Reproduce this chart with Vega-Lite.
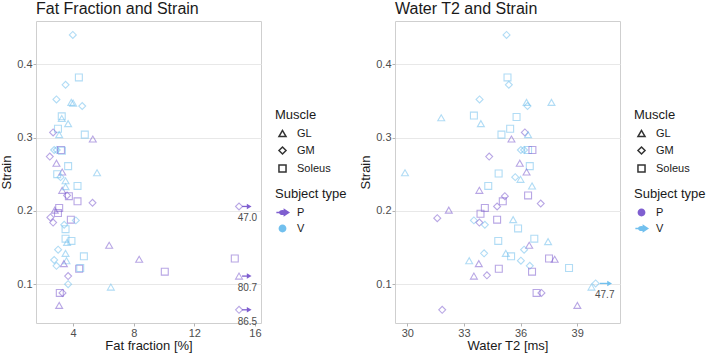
{
  "$schema": "https://vega.github.io/schema/vega-lite/v6.json",
  "padding": {"left": 0, "top": 0, "right": 0, "bottom": 0},
  "datasets": {
    "fat": [
      {"m":"GM","s":"V","ff":3.98,"strain":0.44},
      {"m":"Soleus","s":"V","ff":4.38,"strain":0.382},
      {"m":"GM","s":"V","ff":3.5,"strain":0.372},
      {"m":"GM","s":"V","ff":2.9,"strain":0.352},
      {"m":"GL","s":"V","ff":3.88,"strain":0.348},
      {"m":"GL","s":"V","ff":4.0,"strain":0.347},
      {"m":"GM","s":"V","ff":4.6,"strain":0.343},
      {"m":"Soleus","s":"V","ff":3.25,"strain":0.329},
      {"m":"GL","s":"V","ff":3.25,"strain":0.326},
      {"m":"Soleus","s":"V","ff":3.0,"strain":0.312},
      {"m":"GL","s":"V","ff":3.67,"strain":0.319},
      {"m":"GM","s":"P","ff":2.68,"strain":0.307},
      {"m":"GL","s":"V","ff":3.08,"strain":0.304},
      {"m":"Soleus","s":"V","ff":4.77,"strain":0.304},
      {"m":"GL","s":"P","ff":5.3,"strain":0.298},
      {"m":"GM","s":"V","ff":2.75,"strain":0.283},
      {"m":"GM","s":"V","ff":2.92,"strain":0.283},
      {"m":"Soleus","s":"P","ff":3.2,"strain":0.283},
      {"m":"Soleus","s":"V","ff":3.26,"strain":0.282},
      {"m":"GM","s":"P","ff":2.46,"strain":0.274},
      {"m":"Soleus","s":"V","ff":3.67,"strain":0.261},
      {"m":"GL","s":"P","ff":2.9,"strain":0.265},
      {"m":"GL","s":"V","ff":5.58,"strain":0.252},
      {"m":"GL","s":"P","ff":3.28,"strain":0.253},
      {"m":"Soleus","s":"V","ff":2.95,"strain":0.25},
      {"m":"GM","s":"V","ff":3.17,"strain":0.246},
      {"m":"GL","s":"V","ff":3.5,"strain":0.241},
      {"m":"GL","s":"P","ff":3.28,"strain":0.228},
      {"m":"Soleus","s":"V","ff":4.29,"strain":0.234},
      {"m":"GL","s":"V","ff":3.5,"strain":0.233},
      {"m":"GM","s":"P","ff":3.6,"strain":0.221},
      {"m":"Soleus","s":"P","ff":3.72,"strain":0.22},
      {"m":"Soleus","s":"P","ff":4.29,"strain":0.213},
      {"m":"GM","s":"P","ff":5.28,"strain":0.211},
      {"m":"Soleus","s":"P","ff":3.08,"strain":0.204},
      {"m":"GL","s":"P","ff":2.79,"strain":0.201},
      {"m":"Soleus","s":"P","ff":3.0,"strain":0.197},
      {"m":"GM","s":"P","ff":2.5,"strain":0.191},
      {"m":"GM","s":"P","ff":2.68,"strain":0.184},
      {"m":"Soleus","s":"P","ff":3.85,"strain":0.188},
      {"m":"GM","s":"V","ff":4.18,"strain":0.187},
      {"m":"GM","s":"V","ff":3.41,"strain":0.181},
      {"m":"Soleus","s":"V","ff":3.5,"strain":0.175},
      {"m":"Soleus","s":"V","ff":3.5,"strain":0.162},
      {"m":"Soleus","s":"V","ff":3.89,"strain":0.159},
      {"m":"GL","s":"V","ff":3.6,"strain":0.157},
      {"m":"GM","s":"V","ff":3.01,"strain":0.147},
      {"m":"GL","s":"V","ff":3.5,"strain":0.142},
      {"m":"Soleus","s":"V","ff":4.71,"strain":0.138},
      {"m":"GM","s":"V","ff":2.75,"strain":0.133},
      {"m":"GL","s":"V","ff":3.56,"strain":0.132},
      {"m":"GM","s":"V","ff":2.9,"strain":0.125},
      {"m":"GL","s":"P","ff":3.39,"strain":0.128},
      {"m":"Soleus","s":"P","ff":4.4,"strain":0.121},
      {"m":"Soleus","s":"V","ff":4.47,"strain":0.122},
      {"m":"GM","s":"P","ff":3.67,"strain":0.111},
      {"m":"GM","s":"V","ff":3.67,"strain":0.1},
      {"m":"Soleus","s":"P","ff":3.12,"strain":0.088},
      {"m":"GM","s":"P","ff":3.3,"strain":0.088},
      {"m":"GL","s":"P","ff":3.08,"strain":0.071},
      {"m":"GL","s":"P","ff":6.38,"strain":0.153},
      {"m":"GL","s":"P","ff":8.36,"strain":0.134},
      {"m":"GL","s":"V","ff":6.49,"strain":0.096},
      {"m":"Soleus","s":"P","ff":10.05,"strain":0.117},
      {"m":"Soleus","s":"P","ff":14.67,"strain":0.135},
      {"m":"GM","s":"P","ff":47.0,"strain":0.206},
      {"m":"GL","s":"P","ff":80.7,"strain":0.111},
      {"m":"GM","s":"P","ff":86.5,"strain":0.065}
    ],
    "water": [
      {"m":"GM","s":"V","t2":35.26,"strain":0.44},
      {"m":"Soleus","s":"V","t2":35.31,"strain":0.382},
      {"m":"GM","s":"V","t2":35.38,"strain":0.372},
      {"m":"GM","s":"V","t2":33.83,"strain":0.352},
      {"m":"GL","s":"V","t2":36.32,"strain":0.348},
      {"m":"GL","s":"V","t2":37.64,"strain":0.348},
      {"m":"GM","s":"V","t2":36.37,"strain":0.343},
      {"m":"Soleus","s":"V","t2":35.79,"strain":0.328},
      {"m":"GL","s":"V","t2":31.8,"strain":0.327},
      {"m":"Soleus","s":"V","t2":33.53,"strain":0.33},
      {"m":"GL","s":"V","t2":33.9,"strain":0.319},
      {"m":"Soleus","s":"V","t2":35.45,"strain":0.312},
      {"m":"Soleus","s":"V","t2":34.99,"strain":0.304},
      {"m":"GL","s":"P","t2":35.52,"strain":0.298},
      {"m":"GM","s":"P","t2":36.23,"strain":0.307},
      {"m":"GL","s":"V","t2":36.4,"strain":0.304},
      {"m":"GM","s":"V","t2":36.02,"strain":0.283},
      {"m":"GM","s":"V","t2":36.19,"strain":0.283},
      {"m":"Soleus","s":"V","t2":36.4,"strain":0.283},
      {"m":"Soleus","s":"P","t2":36.63,"strain":0.283},
      {"m":"GM","s":"P","t2":34.34,"strain":0.274},
      {"m":"GL","s":"P","t2":35.96,"strain":0.265},
      {"m":"Soleus","s":"V","t2":36.49,"strain":0.261},
      {"m":"GL","s":"P","t2":36.32,"strain":0.253},
      {"m":"GL","s":"V","t2":29.88,"strain":0.252},
      {"m":"Soleus","s":"V","t2":34.84,"strain":0.251},
      {"m":"GM","s":"V","t2":35.72,"strain":0.246},
      {"m":"GL","s":"V","t2":36.0,"strain":0.243},
      {"m":"GL","s":"P","t2":33.82,"strain":0.228},
      {"m":"Soleus","s":"V","t2":34.29,"strain":0.234},
      {"m":"GL","s":"V","t2":36.61,"strain":0.234},
      {"m":"Soleus","s":"P","t2":36.4,"strain":0.221},
      {"m":"GM","s":"P","t2":35.17,"strain":0.22},
      {"m":"Soleus","s":"P","t2":35.06,"strain":0.213},
      {"m":"GM","s":"P","t2":37.07,"strain":0.21},
      {"m":"GM","s":"P","t2":34.76,"strain":0.206},
      {"m":"Soleus","s":"P","t2":34.11,"strain":0.204},
      {"m":"GL","s":"P","t2":32.2,"strain":0.201},
      {"m":"Soleus","s":"P","t2":33.88,"strain":0.196},
      {"m":"GM","s":"P","t2":31.59,"strain":0.19},
      {"m":"GM","s":"V","t2":33.53,"strain":0.187},
      {"m":"GM","s":"P","t2":33.82,"strain":0.184},
      {"m":"GM","s":"V","t2":34.11,"strain":0.181},
      {"m":"Soleus","s":"P","t2":34.76,"strain":0.188},
      {"m":"GL","s":"V","t2":35.61,"strain":0.188},
      {"m":"Soleus","s":"V","t2":35.87,"strain":0.176},
      {"m":"Soleus","s":"V","t2":34.82,"strain":0.159},
      {"m":"GL","s":"P","t2":36.46,"strain":0.153},
      {"m":"Soleus","s":"V","t2":36.73,"strain":0.162},
      {"m":"GL","s":"V","t2":37.46,"strain":0.158},
      {"m":"GM","s":"V","t2":36.19,"strain":0.147},
      {"m":"GM","s":"V","t2":34.07,"strain":0.142},
      {"m":"GL","s":"V","t2":35.22,"strain":0.142},
      {"m":"Soleus","s":"V","t2":35.5,"strain":0.138},
      {"m":"GL","s":"V","t2":33.28,"strain":0.132},
      {"m":"GM","s":"V","t2":36.02,"strain":0.132},
      {"m":"GL","s":"P","t2":33.79,"strain":0.128},
      {"m":"GM","s":"V","t2":36.49,"strain":0.125},
      {"m":"Soleus","s":"P","t2":34.85,"strain":0.121},
      {"m":"Soleus","s":"P","t2":36.61,"strain":0.117},
      {"m":"Soleus","s":"V","t2":38.57,"strain":0.122},
      {"m":"Soleus","s":"P","t2":37.51,"strain":0.135},
      {"m":"GL","s":"P","t2":37.81,"strain":0.134},
      {"m":"GL","s":"P","t2":33.53,"strain":0.111},
      {"m":"GM","s":"P","t2":34.22,"strain":0.112},
      {"m":"Soleus","s":"P","t2":36.85,"strain":0.088},
      {"m":"GM","s":"P","t2":37.11,"strain":0.088},
      {"m":"GL","s":"P","t2":39.01,"strain":0.071},
      {"m":"GM","s":"P","t2":31.85,"strain":0.065},
      {"m":"GL","s":"V","t2":39.76,"strain":0.096},
      {"m":"GM","s":"V","t2":47.7,"strain":0.101}
    ]
  },
  "hconcat": [
    {
      "title": {"text": "Fat Fraction and Strain", "frame": "group"},
      "width": 225,
      "height": 302,
      "data": {"name": "fat"},
      "transform": [{"calculate": "min(datum.ff, 14.95)", "as": "ff_shown"}],
      "encoding": {
        "y": {"field": "strain", "type": "quantitative", "title": "Strain",
              "scale": {"domain": [0.047, 0.459], "nice": false, "zero": false},
              "axis": {"values": [0.1, 0.2, 0.3, 0.4], "format": ".1f"}}
      },
      "layer": [
        {
          "mark": {"type": "point", "filled": false, "opacity": 0.55, "strokeWidth": 1.1, "size": 48},
          "encoding": {
            "x": {"field": "ff_shown", "type": "quantitative", "title": "Fat fraction [%]",
                  "scale": {"domain": [1.55, 16.4], "nice": false, "zero": false},
                  "axis": {"values": [4, 8, 12, 16]}},
            "shape": {"field": "m", "type": "nominal", "title": "Muscle",
                      "scale": {"domain": ["GL", "GM", "Soleus"], "range": ["triangle-up", "diamond", "square"]},
                      "legend": {"orient": "none", "legendX": 239, "legendY": 88, "symbolStrokeColor": "#333333",
                                 "encoding": {"symbols": {"opacity": {"value": 1}, "stroke": {"value": "#333333"}}}}},
            "color": {"field": "s", "type": "nominal", "title": "Subject type",
                      "scale": {"domain": ["P", "V"], "range": ["#7f5fd0", "#72c0ee"]},
                      "legend": {"orient": "none", "legendX": 239, "legendY": 167, "symbolType": "circle",
                                 "encoding": {"symbols": {
                                   "shape": {"value": {"expr": "datum.value === 'P' ? 'M-1,0L0.4,0M-0.45,0A0.45,0.3 0 1,0 0.45,0A0.45,0.3 0 1,0 -0.45,0ZM0.3,-0.45L1,0L0.3,0.45Z' : 'circle'"}},
                                   "fill": {"value": {"expr": "datum.value === 'P' ? '#7f5fd0' : '#72c0ee'"}},
                                   "stroke": {"value": {"expr": "datum.value === 'P' ? '#7f5fd0' : '#72c0ee'"}},
                                   "size": {"value": {"expr": "datum.value === 'P' ? 150 : 40"}},
                                   "opacity": {"value": 1}}}}}
          }
        },
        {
          "transform": [{"filter": "datum.ff > 16.4"}],
          "mark": {"type": "rule", "strokeWidth": 1.3},
          "encoding": {
            "x": {"datum": 15.15},
            "x2": {"datum": 15.55},
            "color": {"field": "s", "type": "nominal", "legend": null}
          }
        },
        {
          "transform": [{"filter": "datum.ff > 16.4"}],
          "mark": {"type": "point", "shape": "triangle-right", "filled": true, "opacity": 1, "size": 30},
          "encoding": {
            "x": {"datum": 15.62},
            "color": {"field": "s", "type": "nominal", "legend": null}
          }
        },
        {
          "transform": [{"filter": "datum.ff > 16.4"}],
          "mark": {"type": "text", "dy": 12, "fontSize": 10, "color": "#4d4d4d"},
          "encoding": {
            "x": {"datum": 15.5},
            "text": {"field": "ff", "type": "quantitative", "format": ".1f"}
          }
        }
      ]
    },
    {
      "title": {"text": "Water T2 and Strain", "frame": "group"},
      "width": 225,
      "height": 302,
      "data": {"name": "water"},
      "transform": [{"calculate": "min(datum.t2, 39.98)", "as": "t2_shown"}],
      "encoding": {
        "y": {"field": "strain", "type": "quantitative", "title": "Strain",
              "scale": {"domain": [0.047, 0.459], "nice": false, "zero": false},
              "axis": {"values": [0.1, 0.2, 0.3, 0.4], "format": ".1f"}}
      },
      "layer": [
        {
          "mark": {"type": "point", "filled": false, "opacity": 0.55, "strokeWidth": 1.1, "size": 48},
          "encoding": {
            "x": {"field": "t2_shown", "type": "quantitative", "title": "Water T2 [ms]",
                  "scale": {"domain": [29.35, 41.27], "nice": false, "zero": false},
                  "axis": {"values": [30, 33, 36, 39]}},
            "shape": {"field": "m", "type": "nominal", "title": "Muscle",
                      "scale": {"domain": ["GL", "GM", "Soleus"], "range": ["triangle-up", "diamond", "square"]},
                      "legend": {"orient": "none", "legendX": 239, "legendY": 88, "symbolStrokeColor": "#333333",
                                 "encoding": {"symbols": {"opacity": {"value": 1}, "stroke": {"value": "#333333"}}}}},
            "color": {"field": "s", "type": "nominal", "title": "Subject type",
                      "scale": {"domain": ["P", "V"], "range": ["#7f5fd0", "#72c0ee"]},
                      "legend": {"orient": "none", "legendX": 239, "legendY": 167, "symbolType": "circle",
                                 "encoding": {"symbols": {
                                   "shape": {"value": {"expr": "datum.value === 'V' ? 'M-1,0L0.4,0M-0.45,0A0.45,0.3 0 1,0 0.45,0A0.45,0.3 0 1,0 -0.45,0ZM0.3,-0.45L1,0L0.3,0.45Z' : 'circle'"}},
                                   "fill": {"value": {"expr": "datum.value === 'P' ? '#7f5fd0' : '#72c0ee'"}},
                                   "stroke": {"value": {"expr": "datum.value === 'P' ? '#7f5fd0' : '#72c0ee'"}},
                                   "size": {"value": {"expr": "datum.value === 'V' ? 150 : 40"}},
                                   "opacity": {"value": 1}}}}}
          }
        },
        {
          "transform": [{"filter": "datum.t2 > 41.27"}],
          "mark": {"type": "rule", "strokeWidth": 1.3},
          "encoding": {
            "x": {"datum": 40.2},
            "x2": {"datum": 40.65},
            "color": {"field": "s", "type": "nominal", "legend": null}
          }
        },
        {
          "transform": [{"filter": "datum.t2 > 41.27"}],
          "mark": {"type": "point", "shape": "triangle-right", "filled": true, "opacity": 1, "size": 30},
          "encoding": {
            "x": {"datum": 40.72},
            "color": {"field": "s", "type": "nominal", "legend": null}
          }
        },
        {
          "transform": [{"filter": "datum.t2 > 41.27"}],
          "mark": {"type": "text", "dy": 12, "fontSize": 10, "color": "#4d4d4d"},
          "encoding": {
            "x": {"datum": 40.46},
            "text": {"field": "t2", "type": "quantitative", "format": ".1f"}
          }
        }
      ]
    }
  ],
  "spacing": 11,
  "resolve": {"legend": {"color": "independent", "shape": "independent"}},
  "config": {
    "font": "Liberation Sans",
    "view": {"stroke": "#cfcfcf", "strokeWidth": 1},
    "axis": {"domain": false, "grid": false, "labelColor": "#4d4d4d", "labelFontSize": 11,
             "tickColor": "#b3b3b3", "tickSize": 3, "labelPadding": 1, "titleFontSize": 13,
             "titleFontWeight": "normal", "titleColor": "#1a1a1a", "gridColor": "#e8e8e8"},
    "axisY": {"grid": true, "titlePadding": 3},
    "axisX": {"titlePadding": 1},
    "title": {"fontSize": 16, "fontWeight": "normal", "anchor": "start", "color": "#1a1a1a", "offset": 4},
    "legend": {"titleFontSize": 13, "titleFontWeight": "normal", "titleColor": "#1a1a1a",
               "labelFontSize": 11, "labelColor": "#1a1a1a", "rowPadding": 3, "titlePadding": 6,
               "symbolSize": 50, "symbolOffset": 2, "labelOffset": 9, "symbolOpacity": 1}
  }
}
